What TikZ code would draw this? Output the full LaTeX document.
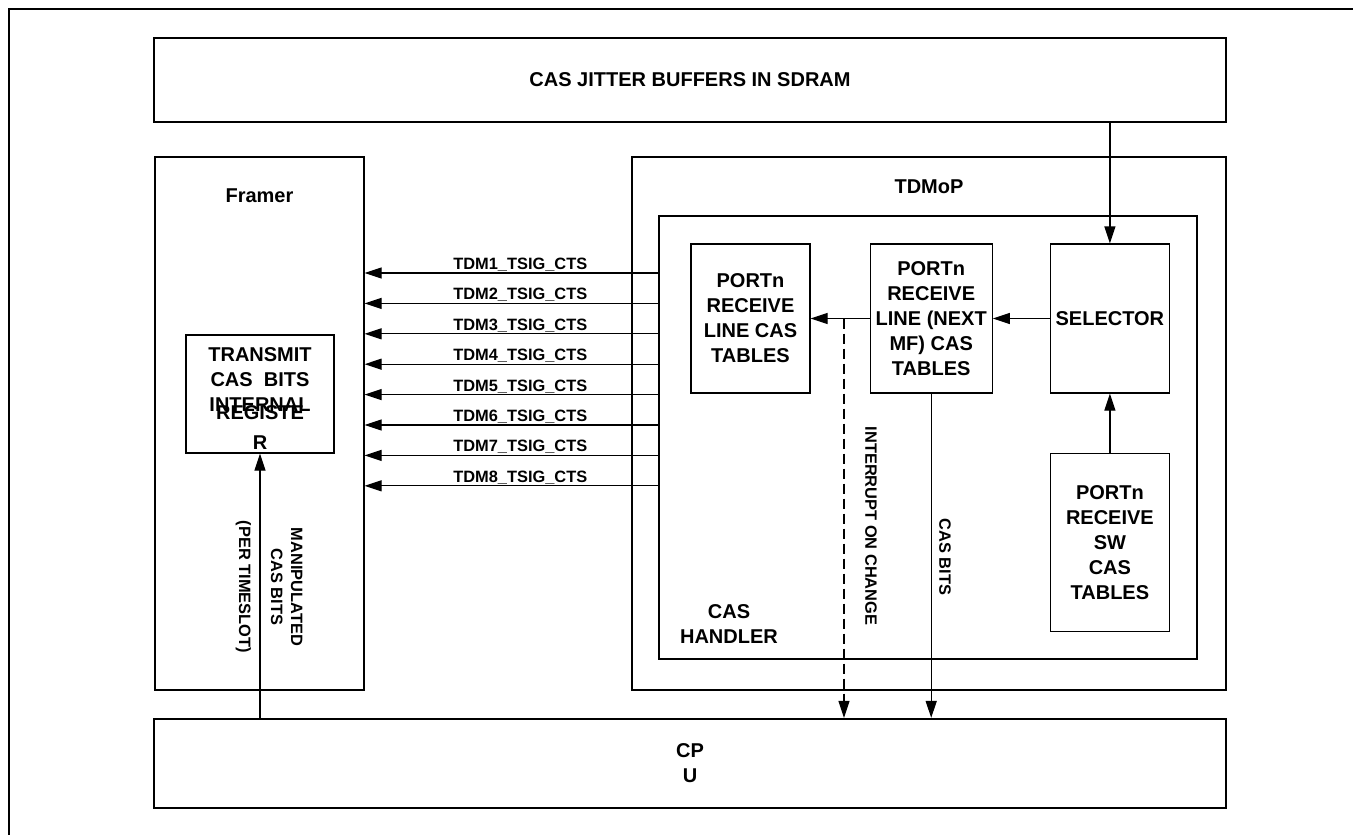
\documentclass[tikz,border=0pt]{standalone}
\usepackage{fontspec}
\setmainfont{Liberation Sans}
\usetikzlibrary{positioning,arrows.meta}

\begin{document}
\begin{tikzpicture}[
    x=1pt, y=-1pt,
    block/.style={
        draw,
        line width=1.2pt,
        inner sep=0pt,
        align=center,
        font=\fontsize{20}{25}\selectfont\bfseries
    },
    heavy/.style={block, line width=2.2pt},
    txt/.style={inner sep=0pt, align=center, font=\fontsize{20}{25}\selectfont\bfseries},
    sig/.style={inner sep=0pt, font=\fontsize{16.4}{20}\selectfont\bfseries},
    vlabel/.style={sig, rotate=-90, align=center},
    arrow/.style={-{Triangle[length=17pt,width=11pt]}, line width=1.2pt}
]
\useasboundingbox (0,0) rectangle (1353,835);

% page frame
\draw[line width=2.2pt] (9,835) -- (9,9) -- (1353,9);

\node[block, minimum width=1072pt, minimum height=84pt] (sdram) at (690,80)
    {CAS JITTER BUFFERS IN SDRAM};

% framer side
\node[block, minimum width=209pt, minimum height=533pt] (framer) at (259.5,423.5) {};
\node[txt] (framerlbl) at ([yshift=-39pt]framer.north) {Framer};

\node[block, minimum width=148pt, minimum height=118pt] (transmit) at (260,394) {};
\node[txt] (txa) at (260,380) {TRANSMIT\\CAS~~BITS\\INTERNAL};
\node[txt, font=\fontsize{20}{30}\selectfont\bfseries] (txb) at (260,428) {REGISTE\\R};

% TDMoP side
\node[block, minimum width=594pt, minimum height=533pt] (tdmop) at (929,423.5) {};
\node[txt] (tdmoplbl) at ([yshift=-30pt]tdmop.north) {TDMoP};

\node[block, minimum width=538pt, minimum height=443pt] (handler) at (928,437.5) {};
\node[txt] (handlerlbl) at (729,624.5) {CAS\\HANDLER};

\node[block, minimum width=119pt, minimum height=149pt] (linecas) at (750.5,318.5)
    {PORTn\\RECEIVE\\LINE CAS\\TABLES};
\node[block, minimum width=122pt, minimum height=149pt, right=59pt of linecas] (nextmf)
    {PORTn\\RECEIVE\\LINE (NEXT\\MF) CAS\\TABLES};
\node[block, minimum width=119pt, minimum height=149pt, right=57pt of nextmf] (selector)
    {SELECTOR};
\node[block, minimum width=119pt, minimum height=178pt, below=59pt of selector] (swcas)
    {PORTn\\RECEIVE\\SW\\CAS\\TABLES};

\node[heavy, minimum width=1072pt, minimum height=89pt] (cpu) at (690,763.5)
    {CP\\U};

% signal lines
\foreach \i [evaluate=\i as \yy using 273+30.4*(\i-1)] in {1,...,8}
    \draw[arrow] (handler.west |- 0,\yy) -- node[sig, above=1pt, pos=0.47]
        {TDM\i\_TSIG\_CTS} (framer.east |- 0,\yy);

\draw[arrow] (sdram.south -| selector.north) -- (selector.north);
\draw[arrow] (swcas.north) -- (selector.south);
\draw[arrow] (selector.west) -- (nextmf.east);
\draw[arrow] (nextmf.west) -- (linecas.east);

\coordinate (tap) at (844,318.5);
\draw[arrow, dash pattern=on 10pt off 5pt] (tap) -- (tap |- cpu.north);
\node[vlabel] (intlbl) at (871,526) {INTERRUPT ON CHANGE};

\draw[arrow] (nextmf.south) -- (nextmf.south |- cpu.north);
\node[vlabel] (caslbl) at (945,557) {CAS BITS};

\draw[arrow] (cpu.north -| transmit.south) -- (transmit.south);
\node[vlabel] (manlbl) at (269,587) {MANIPULATED\\CAS BITS\\[12pt](PER TIMESLOT)};

\end{tikzpicture}
\end{document}
